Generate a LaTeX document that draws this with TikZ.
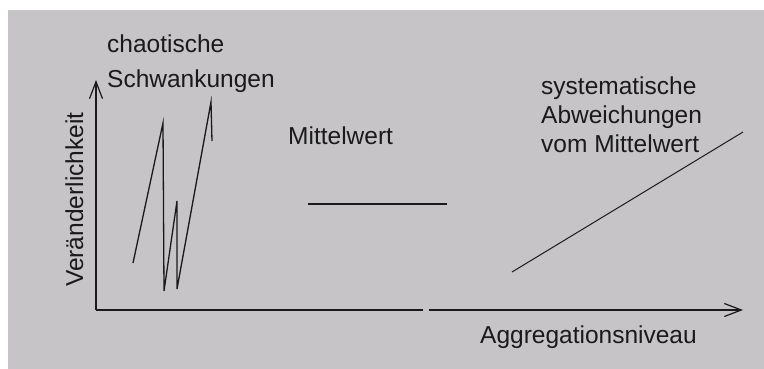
\documentclass[tikz,border=0pt]{standalone}
\usepackage{fontspec}
\setmainfont{Liberation Sans}
\usepackage{xcolor}
\usepackage{tikz}
\usetikzlibrary{positioning,arrows.meta}
\definecolor{panel}{RGB}{198,196,199}
\definecolor{ink}{HTML}{1A1A1A}

\begin{document}
\begin{tikzpicture}[x=1pt,y=-1pt,
  lbl/.style={inner sep=0pt,font=\fontsize{24.5}{29}\selectfont,text=ink},
  ln/.style={line width=1.3pt,ink},
  ax/.style={ln,-{Straight Barb[length=17pt,width=13pt,line width=1.2pt]}}
]
\useasboundingbox (0,0) rectangle (764,369);
\fill[panel] (8,10) rectangle (764,369);
\coordinate (o) at (96,310);
\coordinate (ytip) at (96,80);
\coordinate (gapl) at (423,310);
\coordinate (gapr) at (429,310);
\coordinate (xtip) at (743,310);
\draw[ax] (o) -- (ytip);
\draw[ln] (o) -- (gapl);
\draw[ax] (gapr) -- (xtip);
% chaotic, mean, systematic
\draw[ln] (133,263) -- (163,123) -- (164,291) -- (177,201) -- (177,289) -- (211,102) -- (212,141);
\coordinate (mwl) at (308,204);
\coordinate (mwr) at (447,204);
\draw[ln] (mwl) -- (mwr);
\coordinate (sysl) at (512,272);
\coordinate (sysr) at (743,132);
\draw[ln,line width=1pt] (sysl) -- (sysr);
\node[lbl,anchor=base west] (chao) at (107,53) {chaotische};
\node[lbl,anchor=base west] (schw) at ([yshift=-35pt]chao.base west) {Schwankungen};
\node[lbl,anchor=base west] (mw) at (288,145) {Mittelwert};
\node[lbl,anchor=north west,align=left] (sys) at (541,77) {systematische\\Abweichungen\\vom Mittelwert};
\node[lbl,anchor=base west] (agg) at (480,343) {Aggregationsniveau};
\node[lbl,anchor=base west,rotate=90] (var) at (83,287) {Veränderlichkeit};
\end{tikzpicture}
\end{document}
